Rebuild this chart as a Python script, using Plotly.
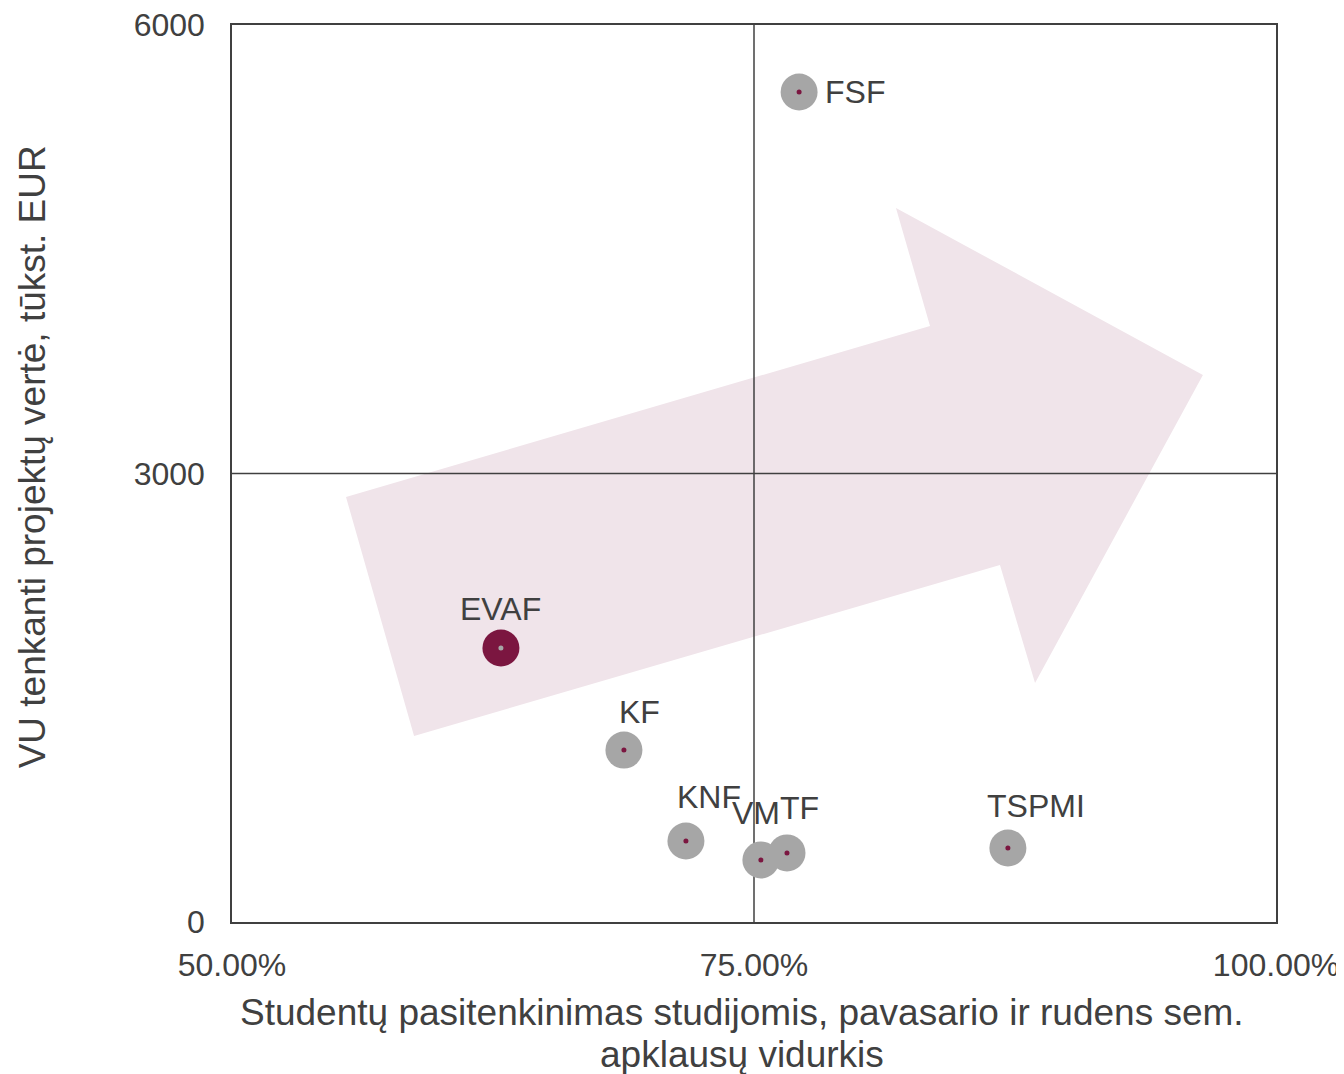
import plotly.graph_objects as go

faculties = ["FSF", "EVAF", "KF", "KNF", "VM", "TF", "TSPMI"]
satisfaction = [77.16, 62.88, 68.77, 71.74, 75.33, 76.58, 87.16]
project_value = [5552, 1833, 1150, 542, 415, 462, 495]

x_ticks = [50, 75, 100]
x_ticklabels = ["50.00%", "75.00%", "100.00%"]
y_ticks = [0, 3000, 6000]

x_title_lines = ["Studentų pasitenkinimas studijomis, pavasario ir rudens sem.",
                 "apklausų vidurkis"]
y_title = "VU tenkanti projektų vertė, tūkst. EUR"

# label offsets in pixels (dx, dy)
label_offsets = {
    "FSF": (56, 0), "EVAF": (0, 39), "KF": (16, 38), "KNF": (23, 44),
    "VM": (-5, 47), "TF": (13, 45), "TSPMI": (28, 42),
}

MAROON = "#7B1640"
GRAY = "#A6A6A6"
FONT = "Liberation Sans, Arial, sans-serif"
TEXT = "#404040"

fig = go.Figure()

# decorative arrow (data coordinates)
arrow = [(55.46, 2843), (58.72, 1244), (86.78, 2388), (88.46, 1599),
         (96.50, 3659), (81.80, 4776), (83.43, 3987)]
path = "M " + " L ".join(f"{x},{y}" for x, y in arrow) + " Z"
fig.add_shape(type="path", path=path, xref="x", yref="y",
              fillcolor="#F0E4EA", line=dict(width=0), layer="below")
fig.add_shape(type="line", x0=75, x1=75, y0=0, y1=6000, xref="x", yref="y",
              line=dict(color=TEXT, width=1.5), layer="below")
fig.add_shape(type="line", x0=50, x1=100, y0=3000, y1=3000, xref="x", yref="y",
              line=dict(color=TEXT, width=1.5), layer="below")

big_colors = [MAROON if f == "EVAF" else GRAY for f in faculties]
small_colors = [GRAY if f == "EVAF" else MAROON for f in faculties]

fig.add_trace(go.Scatter(x=satisfaction, y=project_value, mode="markers",
                         marker=dict(size=37, color=big_colors, line=dict(width=0)),
                         hovertext=faculties, showlegend=False, cliponaxis=False))
fig.add_trace(go.Scatter(x=satisfaction, y=project_value, mode="markers",
                         marker=dict(size=5, color=small_colors, line=dict(width=0)),
                         hoverinfo="skip", showlegend=False, cliponaxis=False))

for f, x, y in zip(faculties, satisfaction, project_value):
    dx, dy = label_offsets[f]
    fig.add_annotation(x=x, y=y, text=f, showarrow=False, xshift=dx, yshift=dy,
                       font=dict(family=FONT, size=32, color=TEXT))

# axis titles as annotations
fig.add_annotation(text=y_title, textangle=-90,
                   xref="paper", yref="paper", x=0, y=0.518, xshift=-200,
                   xanchor="center", yanchor="middle", showarrow=False,
                   font=dict(family=FONT, size=37, color=TEXT))
for i, line in enumerate(x_title_lines):
    fig.add_annotation(text=line, xref="paper", yref="paper", x=0.4885, y=0,
                       yshift=-90 - 42 * i, xanchor="center", yanchor="middle",
                       showarrow=False, font=dict(family=FONT, size=37, color=TEXT))

fig.update_layout(
    width=1336, height=1066,
    margin=dict(l=224, r=68, t=17, b=152),
    paper_bgcolor="white", plot_bgcolor="white",
    font=dict(family=FONT, color=TEXT),
)
fig.update_xaxes(range=[50, 100], tickvals=x_ticks, ticktext=x_ticklabels,
                 showgrid=False, zeroline=False, showline=True, mirror=True,
                 linecolor=TEXT, linewidth=1.5, automargin=False,
                 ticks="outside", ticklen=14, tickcolor="rgba(0,0,0,0)",
                 ticklabeloverflow="allow",
                 tickfont=dict(size=32, color=TEXT, family=FONT))
fig.update_yaxes(range=[0, 6000], tickvals=y_ticks,
                 showgrid=False, zeroline=False, showline=True, mirror=True,
                 linecolor=TEXT, linewidth=1.5, automargin=False,
                 ticks="outside", ticklen=19, tickcolor="rgba(0,0,0,0)",
                 ticklabeloverflow="allow",
                 tickfont=dict(size=32, color=TEXT, family=FONT))

fig.write_html("out.html")
